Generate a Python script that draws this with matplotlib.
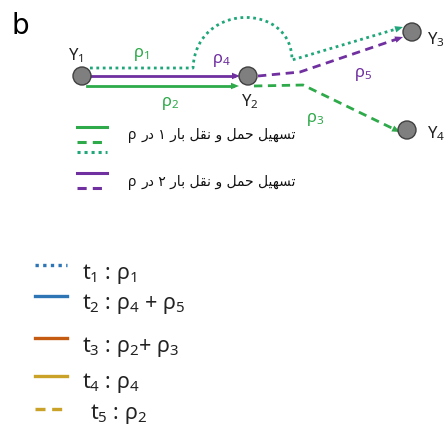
import matplotlib
import numpy as np

matplotlib.use("Agg")
import matplotlib.pyplot as plt  # noqa: E402
from matplotlib.patches import Circle, Polygon  # noqa: E402

# --- content -------------------------------------------------------------
panel_letter = "b"
node_names = ["Y$_1$", "Y$_2$", "Y$_3$", "Y$_4$"]
route_labels = ["ρ$_\\mathbf{1}$", "ρ$_\\mathbf{2}$", "ρ$_\\mathbf{3}$",
                "ρ$_\\mathbf{4}$", "ρ$_\\mathbf{5}$"]
mode_texts = ["تسهیل حمل و نقل بار ۱ در", "تسهیل حمل و نقل بار ۲ در"]
mode_symbol = "ρ"
time_labels = ["t$_1$ : ρ$_1$", "t$_2$ : ρ$_4$ + ρ$_5$", "t$_3$ : ρ$_2$+ ρ$_3$",
               "t$_4$ : ρ$_4$", "t$_5$ : ρ$_2$"]
time_colors = ["#2e75b6", "#2e75b6", "#c55a11", "#c9a227", "#c9a227"]
time_styles = ["dot", "solid", "solid", "solid", "dash"]

GREEN = "#2eaa4a"
TEAL = "#1fa67a"
PURPLE = "#7030a0"

plt.rcParams["font.family"] = ["Noto Sans", "DejaVu Sans"]
plt.rcParams["mathtext.fontset"] = "custom"
plt.rcParams["mathtext.rm"] = "Noto Sans"
plt.rcParams["mathtext.bf"] = "Noto Sans:bold"
plt.rcParams["mathtext.default"] = "regular"

LS = {"solid": "-", "dash": (0, (3, 2)), "dot": (0, (1, 1.3))}

# minimal Persian shaping (matplotlib does no joining / bidi)
FORMS = {
    "ت": ("\uFE95", "\uFE96", "\uFE97", "\uFE98"),
    "س": ("\uFEB1", "\uFEB2", "\uFEB3", "\uFEB4"),
    "ه": ("\uFEE9", "\uFEEA", "\uFEEB", "\uFEEC"),
    "ی": ("\uFEEF", "\uFEF0", "\uFEF3", "\uFEF4"),
    "ل": ("\uFEDD", "\uFEDE", "\uFEDF", "\uFEE0"),
    "ح": ("\uFEA1", "\uFEA2", "\uFEA3", "\uFEA4"),
    "م": ("\uFEE1", "\uFEE2", "\uFEE3", "\uFEE4"),
    "ن": ("\uFEE5", "\uFEE6", "\uFEE7", "\uFEE8"),
    "ق": ("\uFED5", "\uFED6", "\uFED7", "\uFED8"),
    "ب": ("\uFE8F", "\uFE90", "\uFE91", "\uFE92"),
    "و": ("\uFEED", "\uFEEE"),
    "ا": ("\uFE8D", "\uFE8E"),
    "ر": ("\uFEAD", "\uFEAE"),
    "د": ("\uFEA9", "\uFEAA"),
}


def shape_fa(s):
    out = []
    for i, ch in enumerate(s):
        f = FORMS.get(ch)
        if f is None:
            out.append(ch)
            continue
        prev = s[i - 1] if i > 0 else ""
        nxt = s[i + 1] if i + 1 < len(s) else ""
        pj = prev in FORMS and len(FORMS[prev]) == 4
        nj = nxt in FORMS and len(f) == 4
        if pj and nj:
            out.append(f[3])
        elif pj:
            out.append(f[1])
        elif nj:
            out.append(f[2])
        else:
            out.append(f[0])
    return "".join(out[::-1])


def bezier(p0, p1, p2, p3, n=40):
    t = np.linspace(0, 1, n)[:, None]
    p0, p1, p2, p3 = map(np.asarray, (p0, p1, p2, p3))
    return ((1 - t) ** 3 * p0 + 3 * (1 - t) ** 2 * t * p1
            + 3 * (1 - t) * t ** 2 * p2 + t ** 3 * p3)


def head(ax, frm, tip, color, length=8, width=6.5):
    frm, tip = np.asarray(frm, float), np.asarray(tip, float)
    d = (tip - frm) / np.hypot(*(tip - frm))
    n = np.array([-d[1], d[0]])
    base = tip - d * length
    ax.add_patch(Polygon([tip, base + n * width / 2, base - n * width / 2],
                         closed=True, color=color, lw=0, zorder=4))


def route(ax, pts, color, style, arrow=True, lw=2.0):
    pts = np.asarray(pts, float)
    end = pts[-1] - (pts[-1] - pts[-2]) / np.hypot(*(pts[-1] - pts[-2])) * 6
    line = np.vstack([pts[:-1], end]) if arrow else pts
    ax.plot(line[:, 0], line[:, 1], color=color, lw=lw, ls=LS[style],
            zorder=3)
    if arrow:
        head(ax, pts[-2], pts[-1], color)


fig = plt.figure(figsize=(4.46, 4.28), dpi=100)
ax = fig.add_axes([0, 0, 1, 1])
ax.set_xlim(0, 446)
ax.set_ylim(428, 0)
ax.axis("off")

ax.text(12, 34, panel_letter, fontsize=20, family="DejaVu Sans")

# network
nodes = [(82, 76), (248, 76), (412, 32), (407, 130)]
arc = bezier((193, 68), (196, 2), (292, 2), (292, 60))
route(ax, np.vstack([[(90, 68)], arc, [(403, 27)]]), TEAL, "dot")
route(ax, [(90, 76), (240, 76)], PURPLE, "solid")
route(ax, [(87, 86), (239, 86)], GREEN, "solid")
route(ax, [(258, 76), (300, 72), (403, 37)], PURPLE, "dash")
route(ax, [(254, 86), (303, 85), (400, 132)], GREEN, "dash")

for (x, y) in nodes:
    ax.add_patch(Circle((x, y), 9, fc="#7f7f7f", ec="#404040", lw=1.0,
                        zorder=5))
name_pos = [(76, 60, "center"), (250, 106, "center"),
            (427, 44, "left"), (427, 138, "left")]
for name, (x, y, ha) in zip(node_names, name_pos):
    ax.text(x, y, name, fontsize=12, ha=ha, va="baseline", color="#222222")

lab_pos = [(141, 57, GREEN), (170, 106, GREEN), (315, 122, GREEN),
           (221, 63, PURPLE), (363, 77, PURPLE)]
for lab, (x, y, c) in zip(route_labels, lab_pos):
    ax.text(x, y, lab, fontsize=12, ha="center", va="baseline", color=c,
            fontweight="semibold")

# mode legend
for y, c, s in [(127, GREEN, "solid"), (142, GREEN, "dash"),
                (152, TEAL, "dot"), (173, PURPLE, "solid"),
                (188, PURPLE, "dash")]:
    ax.plot([77, 107], [y, y], color=c, lw=2.2, ls=LS[s])
for txt, y in zip(mode_texts, [139, 186]):
    ax.text(142, y, shape_fa(txt), fontsize=10, family="DejaVu Sans",
            ha="left", va="baseline", color="#111111")
    ax.text(128, y, mode_symbol, fontsize=10, fontweight="bold",
            ha="left", va="baseline", color="#111111")

# time legend
line_y = [265, 296, 338, 376, 409]
text_base = [279, 309, 352, 388, 419]
text_x = [82, 82, 82, 82, 90]
for lab, c, s, ly, ty, tx in zip(time_labels, time_colors, time_styles,
                                 line_y, text_base, text_x):
    ax.plot([35, 67], [ly, ly], color=c, lw=2.4, ls=LS[s])
    ax.text(tx, ty, lab, fontsize=15.5, ha="left", va="baseline",
            color="#222222")

fig.savefig("out.png", dpi=100)
